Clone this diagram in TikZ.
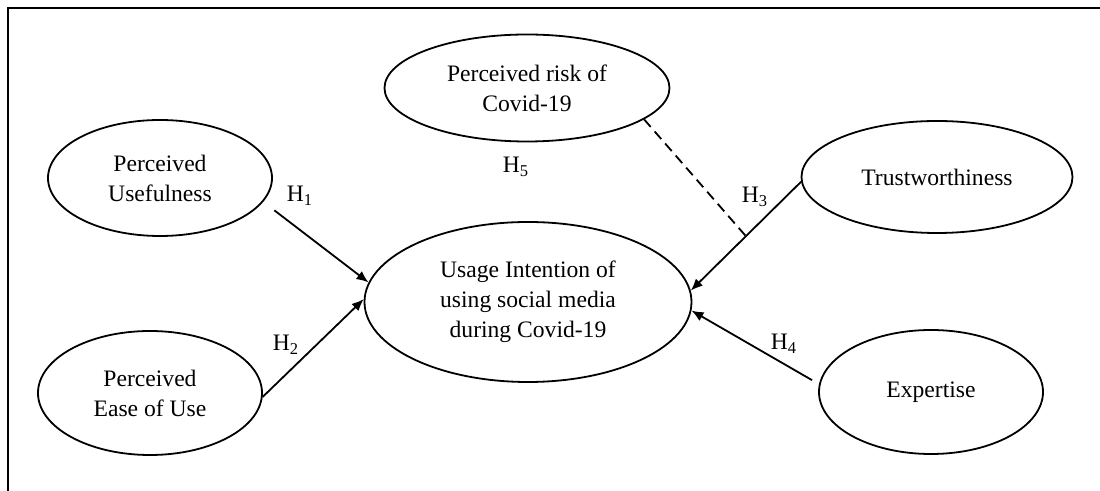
\documentclass[tikz,border=0pt]{standalone}
\usepackage{fontspec}
\setmainfont{Liberation Serif}
\usetikzlibrary{shapes.geometric,arrows.meta,calc}

\tikzset{
  construct/.style={ellipse, draw, line width=0.9pt, inner sep=0pt, align=center,
    font=\fontsize{11.8}{15}\selectfont},
  hyplabel/.style={font=\fontsize{11.8}{15}\selectfont, inner sep=0pt},
  path/.style={->, line width=0.9pt}
}

\begin{document}
\begin{tikzpicture}[x=0.5pt, y=-0.5pt, >={Latex[length=6pt,width=5pt]}]
    \useasboundingbox (0,0) rectangle (1100,491);

    % 1. Khung (top and left edge only)
    \draw[line width=1.2pt] (1100,8) -- (8,8) -- (8,491);

    % 2. Constructs
    \node[construct, minimum width=112pt, minimum height=58pt] (pu) at (160,178) {Perceived\\Usefulness};
    \node[construct, minimum width=112pt, minimum height=62pt] (pe) at (150,393) {Perceived\\Ease of Use};
    \node[construct, minimum width=142.5pt, minimum height=53.5pt] (pr) at (527,88) {Perceived risk of\\Covid-19};
    \node[construct, minimum width=135.5pt, minimum height=56pt] (tw) at (937,177) {Trustworthiness};
    \node[construct, minimum width=112pt, minimum height=62pt] (ex) at (931,392) {Expertise};
    \node[construct, minimum width=163.5pt, minimum height=80pt] (ui) at (528,302) {Usage Intention of\\using social media\\during Covid-19};

    % 3. Paths to usage intention
    \draw[path, shorten <=7pt] (pu.-13) -- (ui.173);
    \draw[path] (pe.-2.5) -- (ui.179);
    \draw[path] (tw.182) -- (ui.4);
    \draw[path, shorten <=4pt] (ex.176) -- (ui.-3);

    % 4. Moderating path (dashed)
    \coordinate (mod) at ($(tw.182)!0.5!(ui.4)$);
    \draw[line width=0.9pt, dash pattern=on 5pt off 3pt] (pr.-15) -- (mod);

    % 5. Hypothesis labels
    \node[hyplabel] (h1) at (300,196) {H\textsubscript{1}};
    \node[hyplabel] (h2) at (286,345) {H\textsubscript{2}};
    \node[hyplabel] (h3) at (755,197) {H\textsubscript{3}};
    \node[hyplabel] (h4) at (784,344) {H\textsubscript{4}};
    \node[hyplabel] (h5) at (516,167) {H\textsubscript{5}};
\end{tikzpicture}
\end{document}
